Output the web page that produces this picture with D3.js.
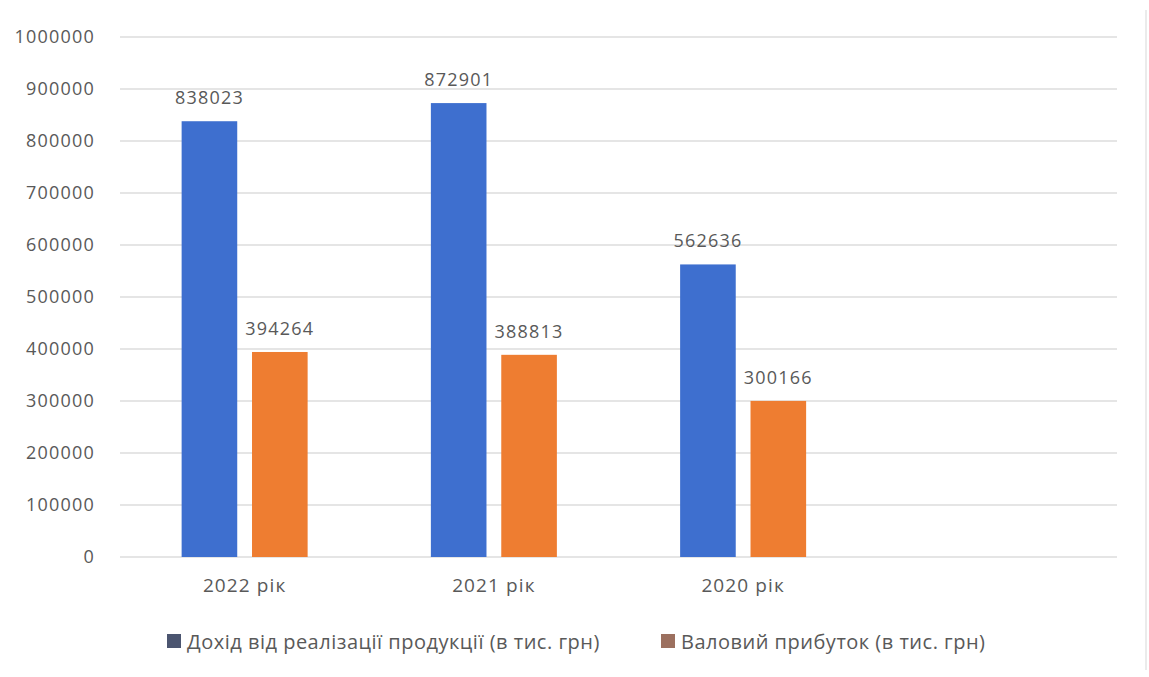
<!DOCTYPE html>
<html>
<head>
<meta charset="utf-8">
<script src="https://cdn.jsdelivr.net/npm/d3@7"></script>
<style>
  html, body { margin: 0; padding: 0; background: #fff; }
  svg { display: block; font-family: "Open Sans", "Noto Sans", sans-serif; }
</style>
</head>
<body>
<svg id="chart" width="1149" height="677"></svg>
<script>
// Categories (the last slot is an empty placeholder column)
const categories = ["2022 рік", "2021 рік", "2020 рік", ""];
const seriesNames = ["Дохід від реалізації продукції (в тис. грн)", "Валовий прибуток (в тис. грн)"];
const revenue = [838023, 872901, 562636];
const grossProfit = [394264, 388813, 300166];
const yTicks = [0, 100000, 200000, 300000, 400000, 500000, 600000, 700000, 800000, 900000, 1000000];

const barColors = ["#3e6fcf", "#ee7d31"];
const legendColors = ["#4b5570", "#9c705f"];
const textColor = "#595959";

const svg = d3.select("#chart");
const margin = { left: 120, right: 32, top: 37, bottom: 120 };
const W = 1149, H = 677;

const x0 = d3.scaleBand()
  .domain(d3.range(categories.length))
  .range([margin.left, W - margin.right])
  .paddingInner(0).paddingOuter(0);

const x1 = d3.scaleBand()
  .domain([0, 1])
  .range([-63, 63])
  .paddingInner(0.21).paddingOuter(0);

const y = d3.scaleLinear().domain([0, 1000000]).range([H - margin.bottom, margin.top]);

// Horizontal gridlines
svg.append("g")
  .selectAll("line")
  .data(yTicks)
  .join("line")
  .attr("x1", margin.left).attr("x2", W - margin.right)
  .attr("y1", d => y(d)).attr("y2", d => y(d))
  .attr("stroke", "#dcdcdc").attr("stroke-width", 1.3);

// Y axis labels
const yAxis = d3.axisLeft(y).tickValues(yTicks).tickSize(0).tickPadding(0).tickFormat(d3.format("d"));
svg.append("g")
  .attr("transform", `translate(${margin.left - 25},0)`)
  .call(yAxis)
  .call(g => g.select(".domain").remove())
  .call(g => g.selectAll("text")
    .attr("fill", textColor)
    .attr("font-size", 18)
    .attr("letter-spacing", 1.2)
    .style("font-family", "'Open Sans', sans-serif"));

// X axis labels
const xAxis = d3.axisBottom(x0).tickSize(0).tickPadding(0).tickFormat(i => categories[i]);
svg.append("g")
  .attr("transform", `translate(0,${y(0) + 21})`)
  .call(xAxis)
  .call(g => g.select(".domain").remove())
  .call(g => g.selectAll("text")
    .attr("fill", textColor)
    .attr("font-size", 19)
    .attr("letter-spacing", 1.1)
    .style("font-family", "'Open Sans', sans-serif"));

// Bars and value labels
const series = [revenue, grossProfit];
series.forEach((vals, s) => {
  const g = svg.append("g");
  g.selectAll("rect")
    .data(vals)
    .join("rect")
    .attr("x", (d, i) => x0(i) + x0.bandwidth() / 2 + x1(s))
    .attr("width", x1.bandwidth())
    .attr("y", d => y(d))
    .attr("height", d => y(0) - y(d))
    .attr("fill", barColors[s]);
  g.selectAll("text")
    .data(vals)
    .join("text")
    .attr("x", (d, i) => x0(i) + x0.bandwidth() / 2 + x1(s) + x1.bandwidth() / 2)
    .attr("y", d => y(d) - 17)
    .attr("text-anchor", "middle")
    .attr("fill", textColor)
    .attr("font-size", 18)
    .attr("letter-spacing", 1.2)
    .text(d => d);
});

// Legend
const legendItems = [
  { name: seriesNames[0], color: legendColors[0], x: 167 },
  { name: seriesNames[1], color: legendColors[1], x: 661 }
];
const legend = svg.append("g").attr("transform", "translate(0,642)");
legendItems.forEach(it => {
  legend.append("rect")
    .attr("x", it.x).attr("y", -8).attr("width", 14).attr("height", 14)
    .attr("fill", it.color);
  legend.append("text")
    .attr("x", it.x + 20).attr("y", 0)
    .attr("dy", "0.35em")
    .attr("fill", textColor)
    .attr("font-size", 20)
    .attr("letter-spacing", 0.5)
    .text(it.name);
});

// Frame edge on the right
svg.append("line")
  .attr("x1", 1146).attr("x2", 1146).attr("y1", 10).attr("y2", 670)
  .attr("stroke", "#e4e4e4").attr("stroke-width", 1.5);
</script>
</body>
</html>
